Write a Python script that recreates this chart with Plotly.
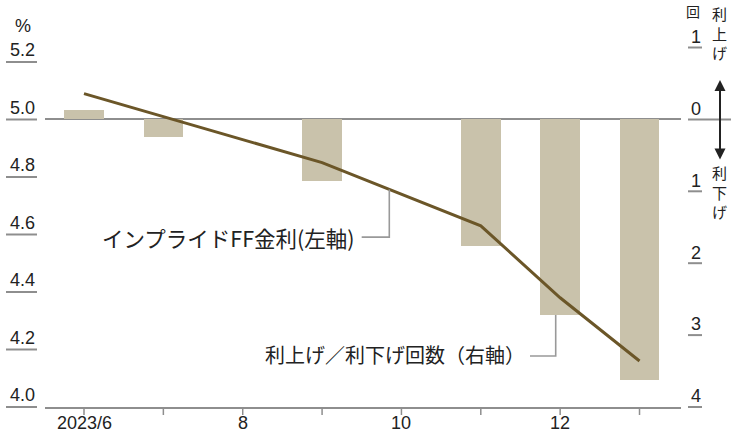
import numpy as np
import plotly.graph_objects as go

# ---- data -------------------------------------------------------------
# x axis: months counted from 2023/6 (= 0)
month_idx = [0, 1, 2, 3, 4, 5, 6, 7]
month_labels = ["2023/6", "", "8", "", "10", "", "12", ""]

# FOMC meeting months
meeting_idx = [0, 1, 3, 5, 6, 7]
# implied FF rate (%), left axis
implied_ff = [5.09, 5.01, 4.85, 4.63, 4.38, 4.16]
# number of hikes (+) / cuts (-), right axis
hikes_cuts = [0.13, -0.24, -0.85, -1.76, -2.72, -3.63]

left_ticks = [4.0, 4.2, 4.4, 4.6, 4.8, 5.0, 5.2]
left_ticktext = ["4.0", "4.2", "4.4", "4.6", "4.8", "5.0", "5.2"]
right_ticks = [1, 0, -1, -2, -3, -4]
right_ticktext = ["1", "0", "1", "2", "3", "4"]

# ---- geometry ---------------------------------------------------------
W, H = 731, 441
ML, MR, MT, MB = 45, 50, 40, 34
PW, PH = W - ML - MR, H - MT - MB

X_RANGE = [-0.4914, 7.5227]
L_RANGE = [4.0, 5.2765]      # left axis (%)
R_RANGE = [-4.0, 1.1043]     # right axis (count)

BAR_COLOR = "#c9c2ab"
LINE_COLOR = "#6b5628"
GRAY = "#8e8e8e"
TEXT = "#222222"
NUM_FONT = "Liberation Sans Narrow, Liberation Sans, Arial, sans-serif"
JP_FONT = "Noto Sans CJK JP, sans-serif"


def px_x(p):
    return (p - ML) / PW


def px_y(p):
    return (H - MB - p) / PH


def left_paper(v):
    return (v - L_RANGE[0]) / (L_RANGE[1] - L_RANGE[0])


def right_paper(v):
    return (v - R_RANGE[0]) / (R_RANGE[1] - R_RANGE[0])


fig = go.Figure()

# bars: hikes / cuts (count axis)
fig.add_trace(go.Bar(
    x=meeting_idx, y=hikes_cuts, width=0.5,
    marker=dict(color=BAR_COLOR, line=dict(width=0)),
    yaxis="y", showlegend=False, hoverinfo="skip",
))

# line: implied FF rate (rate axis, drawn on top)
fig.add_trace(go.Scatter(
    x=meeting_idx, y=implied_ff, mode="lines",
    line=dict(color=LINE_COLOR, width=3),
    yaxis="y2", showlegend=False, hoverinfo="skip",
))

shapes = []
# month tick marks hanging below the x axis
for m in month_idx:
    shapes.append(dict(type="line", xref="x", yref="paper",
                       x0=m, x1=m, y0=0, y1=-8 / PH,
                       line=dict(color=GRAY, width=1.5)))
# underlines below the tick labels
for v in left_ticks:
    yp = left_paper(v)
    shapes.append(dict(type="line", xref="paper", yref="paper",
                       x0=px_x(6), x1=px_x(37), y0=yp, y1=yp,
                       line=dict(color=GRAY, width=2)))
for v in right_ticks:
    yp = right_paper(v)
    x1 = px_x(731) if v == 0 else px_x(702)
    shapes.append(dict(type="line", xref="paper", yref="paper",
                       x0=px_x(688), x1=x1, y0=yp, y1=yp,
                       line=dict(color=GRAY, width=2)))

# leader for the rate line label
lead1_x = 3.847
lead1_top = float(np.interp(lead1_x, meeting_idx, implied_ff))
lead1_y = 4.591
shapes.append(dict(type="path", xref="x", yref="y2",
                   path=f"M 3.499,{lead1_y} L {lead1_x},{lead1_y} L {lead1_x},{lead1_top}",
                   line=dict(color="#999999", width=1.6)))

# leader for the bar label (attached to the December bar)
lead2_x = 5.944
lead2_top = hikes_cuts[meeting_idx.index(6)]
lead2_y = -3.29
shapes.append(dict(type="path", xref="x", yref="y",
                   path=f"M 5.62,{lead2_y} L {lead2_x},{lead2_y} L {lead2_x},{lead2_top}",
                   line=dict(color="#999999", width=1.6)))

annotations = [
    dict(text="インプライドFF金利(左軸)", xref="x", yref="y2", x=3.44, y=lead1_y,
         xanchor="right", yanchor="middle", showarrow=False,
         font=dict(family=JP_FONT, size=21.5, color=TEXT)),
    dict(text="利上げ／利下げ回数（右軸）", xref="x", yref="y", x=5.582, y=-3.27,
         xanchor="right", yanchor="middle", showarrow=False,
         font=dict(family=JP_FONT, size=20, color=TEXT)),
    dict(text="%", xref="paper", yref="paper", x=px_x(23), y=px_y(26),
         xanchor="center", yanchor="middle", showarrow=False,
         font=dict(family=NUM_FONT, size=18, color=TEXT)),
    dict(text="回", xref="paper", yref="paper", x=px_x(693), y=px_y(11),
         xanchor="center", yanchor="middle", showarrow=False,
         font=dict(family=JP_FONT, size=14, color=TEXT)),
    # double-headed arrow between 利上げ and 利下げ
    dict(text="", xref="paper", yref="paper", x=px_x(720), y=px_y(80),
         ax=0, ay=81, axref="pixel", ayref="pixel", showarrow=True,
         arrowhead=2, startarrowhead=2, arrowside="end+start",
         arrowsize=1.1, arrowwidth=2, arrowcolor=TEXT),
    # vertical captions next to the arrow
    dict(text="利<br>上<br>げ", xref="paper", yref="paper",
         x=px_x(719), y=px_y(33), xanchor="center", yanchor="middle",
         showarrow=False, font=dict(family=JP_FONT, size=15, color=TEXT)),
    dict(text="利<br>下<br>げ", xref="paper", yref="paper",
         x=px_x(719), y=px_y(192), xanchor="center", yanchor="middle",
         showarrow=False, font=dict(family=JP_FONT, size=15, color=TEXT)),
]

# month labels under the x axis
for m, lab in zip(month_idx, month_labels):
    if lab:
        annotations.append(dict(text=lab, xref="x", yref="paper", x=m, y=px_y(423),
                                xanchor="center", yanchor="middle", showarrow=False,
                                font=dict(family=NUM_FONT, size=18, color=TEXT)))

fig.update_layout(
    width=W, height=H,
    margin=dict(l=ML, r=MR, t=MT, b=MB, pad=0, autoexpand=False),
    paper_bgcolor="white", plot_bgcolor="white",
    bargap=0,
    xaxis=dict(
        range=X_RANGE, tickmode="array", tickvals=month_idx,
        showticklabels=False,
        showgrid=False, zeroline=False, automargin=False,
        showline=True, linecolor=GRAY, linewidth=2, ticks="",
    ),
    # count axis (right)
    yaxis=dict(
        range=R_RANGE, side="right", tickmode="array",
        tickvals=right_ticks, ticktext=right_ticktext, automargin=False,
        showgrid=False, zeroline=True, zerolinecolor=GRAY, zerolinewidth=2,
        showline=False, ticks="", ticklabelstandoff=9, ticklabelshift=-11,
        tickfont=dict(family=NUM_FONT, size=18, color=TEXT),
    ),
    # rate axis (left)
    yaxis2=dict(
        range=L_RANGE, side="left", overlaying="y", tickmode="array",
        tickvals=left_ticks, ticktext=left_ticktext, automargin=False,
        showgrid=False, zeroline=False, showline=False, ticks="",
        ticklabelstandoff=9, ticklabelshift=-12,
        tickfont=dict(family=NUM_FONT, size=18, color=TEXT),
    ),
    shapes=shapes,
    annotations=annotations,
)

fig.write_html("out.html")
